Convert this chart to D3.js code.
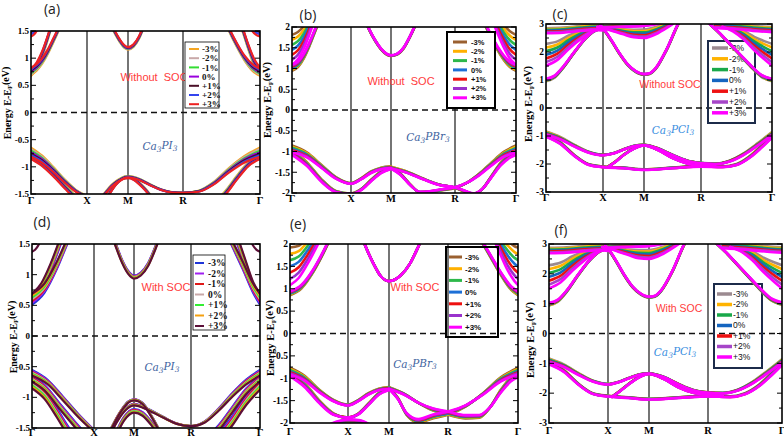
<!DOCTYPE html>
<html><head><meta charset="utf-8">
<script src="https://cdn.jsdelivr.net/npm/d3@7"></script>
<style>body{margin:0;background:#fff}</style>
</head><body>
<script>
// ---------------- DATA ----------------
const kLabels = ["Γ","X","M","R","Γ"];
const strainLabels = ["-3%","-2%","-1%","0%","+1%","+2%","+3%"];
const strainSteps = [-3,-2,-1,0,1,2,3];
const colorsA = ["#f5a623","#c8a8a8","#33dd33","#9900dd","#4a1028","#3344ee","#ee2222"];
const colorsB = ["#9a6030","#ffb000","#2db84a","#1c6fd6","#ee1010","#9932cc","#ff00ff"];
const colorsC = ["#9b8a90","#ffb300","#19a84a","#1565c0","#ee1111","#a645c8","#ff00ff"];
const colorsD = ["#1f35d8","#a020f0","#e01818","#c8a8a8","#33ee33","#f5a010","#5c0f38"];
const yTicksA = [-1.5,-1,-0.5,0,0.5,1,1.5];
const yTicksB = [-2,-1.5,-1,-0.5,0,0.5,1,1.5,2];
const yTicksC = [-3,-2,-1,0,1,2,3];
const panelLabels = ["(a)","(b)","(c)","(d)","(e)","(f)"];
const socLabels = ["Without  SOC","Without  SOC","Without SOC","With SOC","With SOC","With SOC"];
const compoundParts = [["Ca","3","PI","3"],["Ca","3","PBr","3"],["Ca","3","PCl","3"],["Ca","3","PI","3"],["Ca","3","PBr","3"],["Ca","3","PCl","3"]];
// bands: k (path coordinate Γ=0,X=1,M=2,R=3,Γ=4), e (0% energy, eV), s (shift per 1% strain, eV)
const bandsA = [
 {k:[0,0.1,0.2,0.3,0.4], e:[0.74,0.86,1.08,1.38,1.72], s:[0.022,0.02,0.016,0.012,0.01]},
 {k:[0,0.1,0.2,0.3,0.4,0.5,0.6], e:[0.76,0.83,0.95,1.12,1.33,1.55,1.8], s:[0.022,0.02,0.017,0.014,0.012,0.01,0.01]},
 {k:[0,0.05,0.1,0.15], e:[1.52,1.55,1.62,1.75], s:-0.04},
 {k:[1.5,1.65,1.8,1.9,2,2.1,2.2,2.3], e:[1.75,1.52,1.32,1.22,1.18,1.23,1.38,1.62], s:0.008},
 {k:[3.5,3.6,3.7,3.8,3.9,4], e:[1.85,1.52,1.24,1.0,0.83,0.74], s:[0.01,0.01,0.012,0.015,0.02,0.022]},
 {k:[3.7,3.78,3.85,3.92,4], e:[1.8,1.5,1.2,0.94,0.76], s:[0.01,0.012,0.015,0.02,0.022]},
 {k:[3.85,3.9,3.95,4], e:[1.75,1.62,1.55,1.52], s:-0.04},
 {k:[0,0.2,0.4,0.6,0.8,1.0], e:[-0.73,-0.86,-1.05,-1.26,-1.44,-1.55], s:[-0.028,-0.022,-0.015,-0.01,-0.006,-0.005]},
 {k:[0,0.2,0.4,0.6,0.75,0.85], e:[-0.82,-0.95,-1.14,-1.36,-1.52,-1.65], s:-0.012},
 {k:[1.3,1.45,1.6,1.75,1.9,2,2.1,2.2,2.3,2.4,2.5], e:[-1.62,-1.48,-1.35,-1.26,-1.2,-1.19,-1.22,-1.3,-1.4,-1.52,-1.65], s:-0.006},
 {k:[1.5,1.7,1.85,2,2.2,2.4,2.6,2.8,3,3.2,3.4,3.6,3.8,4], e:[-1.55,-1.32,-1.22,-1.18,-1.23,-1.33,-1.42,-1.47,-1.48,-1.45,-1.3,-1.06,-0.86,-0.73], s:[-0.005,-0.005,-0.005,-0.005,-0.004,-0.003,-0.002,-0.001,0,-0.003,-0.008,-0.014,-0.02,-0.028]},
 {k:[3.4,3.55,3.7,3.85,4], e:[-1.7,-1.48,-1.2,-0.95,-0.82], s:-0.012}
];
const bandsB = [
 {k:[0,0.1,0.2,0.3,0.4,0.5], e:[1.02,1.1,1.3,1.6,1.95,2.3], s:[0.025,0.022,0.018,0.014,0.01,0.01]},
 {k:[0,0.1,0.2,0.3,0.4], e:[1.45,1.55,1.75,2.05,2.4], s:[-0.12,-0.11,-0.09,-0.07,-0.05]},
 {k:[1.3,1.45,1.6,1.75,1.9,2,2.1,2.2,2.3,2.45], e:[2.3,1.95,1.68,1.47,1.34,1.31,1.35,1.5,1.78,2.3], s:0.003},
 {k:[3.4,3.5,3.6,3.7,3.8,3.9,4], e:[2.35,2.05,1.75,1.48,1.26,1.1,1.02], s:[0.01,0.01,0.012,0.015,0.018,0.022,0.025]},
 {k:[3.6,3.7,3.8,3.9,4], e:[2.35,2.05,1.78,1.57,1.45], s:[-0.05,-0.07,-0.09,-0.11,-0.12]},
 {k:[0,0.25,0.5,0.75,1,1.25,1.5,1.75,2], e:[-0.94,-1.08,-1.36,-1.64,-1.77,-1.66,-1.5,-1.41,-1.38], s:[-0.028,-0.02,-0.012,-0.006,-0.002,-0.004,-0.006,-0.007,-0.007]},
 {k:[0,0.25,0.5,0.75,1,1.25,1.5,1.75,2], e:[-1.02,-1.3,-1.7,-1.97,-2.02,-1.92,-1.7,-1.5,-1.4], s:[-0.02,-0.015,-0.01,-0.005,-0.003,-0.004,-0.006,-0.007,-0.007]},
 {k:[2,2.25,2.5,2.75,3,3.15,3.3,3.45,3.6,3.75,3.9,4], e:[-1.39,-1.5,-1.66,-1.8,-1.87,-1.95,-2.02,-1.9,-1.6,-1.3,-1.1,-1.02], s:[-0.007,-0.005,-0.003,-0.002,0.002,0.004,0.004,0,-0.006,-0.012,-0.017,-0.02]},
 {k:[2,2.15,2.3,2.45,2.6,2.8,3,3.2,3.4,3.6,3.8,4], e:[-1.39,-1.55,-1.8,-1.98,-1.97,-1.92,-1.87,-1.75,-1.55,-1.3,-1.07,-0.94], s:[-0.007,-0.005,-0.003,0.002,0.004,0.004,0.003,0,-0.006,-0.012,-0.02,-0.028]}
];
const bandsC = [
 {k:[0,0.15,0.3,0.5,0.7,0.85,1], e:[1.0,1.12,1.45,2.0,2.5,2.75,2.84], s:[0.015,0.012,0.008,0.005,0.003,0.001,0]},
 {k:[0,0.2,0.4,0.6,0.8,1], e:[1.9,2.05,2.35,2.6,2.78,2.85], s:[-0.13,-0.11,-0.08,-0.05,-0.02,0]},
 {k:[0,0.3,0.6,0.85,1], e:[2.76,2.78,2.84,2.88,2.86], s:-0.03},
 {k:[0.9,1,1.25,1.5,1.75,2,2.25,2.5], e:[2.9,2.86,2.8,2.72,2.66,2.65,2.8,3.05], s:[0,0,-0.02,-0.03,-0.045,-0.05,-0.04,-0.02]},
 {k:[1,1.5,2,2.4], e:[2.9,2.93,2.96,3.1], s:-0.01},
 {k:[0.95,1,1.2,1.4,1.6,1.8,1.9,2,2.1,2.2,2.4,2.6,2.75], e:[2.95,2.84,2.42,1.95,1.55,1.3,1.23,1.2,1.23,1.4,2.1,3.0,3.5], s:0.005},
 {k:[3.1,3.25,3.4,3.55,3.7,3.85,4], e:[3.05,2.7,2.3,1.9,1.5,1.15,1.0], s:[0,0.002,0.004,0.006,0.009,0.012,0.015]},
 {k:[3.3,3.45,3.6,3.75,3.9,4], e:[2.9,2.8,2.6,2.3,2.05,1.9], s:[0,-0.02,-0.05,-0.08,-0.11,-0.13]},
 {k:[3.2,3.5,3.8,4], e:[2.95,2.9,2.83,2.8], s:-0.03},
 {k:[0,0.25,0.5,0.75,1,1.25,1.5,1.75,2,2.25,2.5,2.75,3,3.2,3.4,3.6,3.8,4], e:[-0.9,-1.08,-1.35,-1.58,-1.68,-1.62,-1.48,-1.36,-1.32,-1.45,-1.68,-1.88,-1.97,-2.0,-1.9,-1.65,-1.3,-0.92], s:[-0.02,-0.015,-0.01,-0.005,-0.003,-0.002,-0.002,-0.003,-0.003,-0.003,-0.003,-0.003,-0.003,-0.003,-0.005,-0.01,-0.015,-0.02]},
 {k:[1.1,1.3,1.5,1.75,2,2.25,2.5,2.75,3,3.2], e:[-2.12,-1.92,-1.68,-1.45,-1.33,-1.5,-1.78,-1.97,-2.05,-2.08], s:-0.003},
 {k:[0,0.25,0.5,0.75,1,1.5,2,2.5,3,3.3,3.5,3.7,3.85,4], e:[-0.97,-1.25,-1.7,-2.02,-2.1,-2.14,-2.2,-2.14,-2.08,-2.1,-2.02,-1.72,-1.38,-1.0], s:[-0.02,-0.012,-0.006,-0.004,-0.004,-0.004,-0.004,-0.004,-0.004,-0.004,-0.006,-0.01,-0.015,-0.02]}
];
const bandsD = [
 {k:[0,0.2,0.4,0.55,0.7], e:[0.6,0.78,1.15,1.5,1.85], s:[0.03,0.025,0.02,0.015,0.01]},
 {k:[0,0.15,0.3,0.45,0.55], e:[0.63,0.8,1.12,1.52,1.8], s:0.02},
 {k:[0,0.05,0.1,0.15], e:[1.75,1.78,1.85,1.98], s:-0.125},
 {k:[1.4,1.55,1.7,1.85,2,2.12,2.25,2.38,2.5], e:[1.75,1.47,1.22,1.04,0.96,1.01,1.17,1.45,1.75], s:-0.008},
 {k:[3.45,3.6,3.75,3.9,4], e:[1.85,1.5,1.15,0.78,0.6], s:[0.01,0.015,0.02,0.025,0.03]},
 {k:[3.6,3.7,3.8,3.9,4], e:[1.75,1.47,1.14,0.82,0.63], s:0.02},
 {k:[3.85,3.9,3.95,4], e:[1.98,1.85,1.78,1.75], s:-0.125},
 {k:[0,0.25,0.5,0.75,1], e:[-0.6,-0.75,-1.02,-1.3,-1.55], s:[-0.015,-0.012,-0.01,-0.008,-0.006]},
 {k:[0,0.2,0.45,0.7,0.85], e:[-0.7,-0.84,-1.15,-1.45,-1.62], s:-0.015},
 {k:[0,0.2,0.4,0.55,0.65], e:[-0.78,-0.95,-1.25,-1.5,-1.65], s:-0.025},
 {k:[1.35,1.5,1.7,1.85,2,2.15,2.3,2.45], e:[-1.62,-1.42,-1.2,-1.08,-1.04,-1.1,-1.3,-1.55], s:-0.003},
 {k:[1.4,1.6,1.8,2,2.25,2.5,2.75,3,3.2,3.4,3.6,3.8,4], e:[-1.6,-1.36,-1.19,-1.12,-1.2,-1.32,-1.43,-1.47,-1.4,-1.2,-0.96,-0.75,-0.6], s:[-0.004,-0.004,-0.004,-0.004,-0.003,-0.002,-0.001,0,-0.003,-0.006,-0.01,-0.013,-0.015]},
 {k:[1.55,1.75,2,2.15,2.3,2.4], e:[-1.6,-1.35,-1.22,-1.27,-1.42,-1.55], s:-0.01},
 {k:[3.3,3.4,3.6,3.8,4], e:[-1.62,-1.5,-1.2,-0.9,-0.7], s:-0.015},
 {k:[3.45,3.6,3.8,4], e:[-1.6,-1.38,-1.05,-0.8], s:-0.025}
];
const bandsE = [
 {k:[0,0.2,0.4,0.55,0.7], e:[0.9,1.05,1.4,1.75,2.15], s:[0.015,0.013,0.01,0.008,0.006]},
 {k:[0,0.15,0.3,0.45,0.6], e:[1.5,1.6,1.85,2.15,2.5], s:[-0.14,-0.12,-0.1,-0.08,-0.06]},
 {k:[1.3,1.45,1.6,1.8,2,2.2,2.35,2.5,2.6], e:[2.25,1.9,1.6,1.28,1.17,1.3,1.55,1.95,2.25], s:0},
 {k:[3.45,3.6,3.75,3.9,4], e:[2.15,1.75,1.35,1.02,0.9], s:[0.006,0.008,0.01,0.013,0.015]},
 {k:[3.65,3.75,3.85,3.95,4], e:[2.3,2.0,1.75,1.56,1.5], s:[-0.06,-0.08,-0.11,-0.13,-0.14]},
 {k:[0,0.25,0.5,0.75,1,1.25,1.5,1.75,2], e:[-0.84,-1.0,-1.28,-1.5,-1.6,-1.5,-1.35,-1.25,-1.22], s:[-0.025,-0.018,-0.01,-0.005,-0.003,-0.004,-0.005,-0.006,-0.007]},
 {k:[0,0.25,0.5,0.75,1,1.25,1.5,1.75,2], e:[-0.9,-1.15,-1.52,-1.8,-1.88,-1.8,-1.58,-1.35,-1.24], s:[-0.02,-0.015,-0.01,-0.005,0,-0.003,-0.005,-0.006,-0.007]},
 {k:[0.7,1,1.3,1.5], e:[-2.05,-1.95,-1.97,-2.05], s:0.01},
 {k:[2,2.25,2.5,2.75,3,3.25,3.45,3.6,3.75,3.9,4], e:[-1.22,-1.35,-1.55,-1.7,-1.78,-1.86,-1.85,-1.65,-1.3,-1.02,-0.92], s:[-0.007,-0.004,0,0.008,0.012,0.012,0.01,0,-0.01,-0.016,-0.02]},
 {k:[2,2.15,2.3,2.5,2.75,3,3.25,3.5,3.75,4], e:[-1.22,-1.45,-1.8,-1.95,-1.85,-1.78,-1.62,-1.35,-1.03,-0.84], s:[-0.007,-0.004,0.006,0.012,0.014,0.012,0.005,-0.005,-0.015,-0.025]}
];
const bandsF = [
 {k:[0,0.15,0.3,0.5,0.7,0.85,1], e:[0.98,1.1,1.42,1.98,2.48,2.74,2.84], s:[0.015,0.012,0.008,0.005,0.003,0.001,0]},
 {k:[0,0.2,0.4,0.6,0.8,1], e:[1.9,2.05,2.35,2.6,2.78,2.85], s:[-0.13,-0.11,-0.08,-0.05,-0.02,0]},
 {k:[0,0.3,0.6,0.85,1], e:[2.78,2.8,2.85,2.88,2.86], s:-0.03},
 {k:[0.9,1,1.25,1.5,1.75,2,2.25,2.5], e:[2.9,2.86,2.8,2.72,2.66,2.65,2.8,3.05], s:[0,0,-0.02,-0.03,-0.045,-0.05,-0.04,-0.02]},
 {k:[1,1.5,2,2.4], e:[2.9,2.93,2.96,3.1], s:-0.01},
 {k:[0.95,1,1.2,1.4,1.6,1.8,1.9,2,2.1,2.2,2.4,2.6,2.75], e:[2.95,2.84,2.42,1.95,1.56,1.32,1.25,1.22,1.25,1.42,2.1,3.0,3.5], s:0.005},
 {k:[3.1,3.25,3.4,3.55,3.7,3.85,4], e:[3.05,2.7,2.3,1.9,1.5,1.15,1.0], s:[0,0.002,0.004,0.006,0.009,0.012,0.015]},
 {k:[3.3,3.45,3.6,3.75,3.9,4], e:[2.9,2.8,2.6,2.3,2.05,1.9], s:[0,-0.02,-0.05,-0.08,-0.11,-0.13]},
 {k:[3.2,3.5,3.8,4], e:[2.95,2.9,2.83,2.8], s:-0.03},
 {k:[0,0.25,0.5,0.75,1,1.25,1.5,1.75,2,2.25,2.5,2.75,3,3.2,3.4,3.6,3.8,4], e:[-0.9,-1.08,-1.36,-1.6,-1.7,-1.63,-1.5,-1.38,-1.34,-1.46,-1.7,-1.9,-1.98,-2.0,-1.9,-1.65,-1.3,-0.92], s:[-0.02,-0.015,-0.01,-0.005,-0.003,-0.002,-0.002,-0.003,-0.003,-0.003,-0.003,-0.003,-0.003,-0.003,-0.005,-0.01,-0.015,-0.02]},
 {k:[1.1,1.3,1.5,1.75,2,2.25,2.5,2.75,3,3.2], e:[-2.12,-1.92,-1.7,-1.47,-1.35,-1.52,-1.8,-1.98,-2.05,-2.08], s:-0.003},
 {k:[0,0.25,0.5,0.75,1,1.5,2,2.5,3,3.3,3.5,3.7,3.85,4], e:[-0.97,-1.25,-1.7,-2.02,-2.1,-2.15,-2.2,-2.15,-2.1,-2.12,-2.02,-1.72,-1.38,-1.0], s:[-0.02,-0.012,-0.006,-0.004,-0.004,-0.004,-0.004,-0.004,-0.004,-0.004,-0.006,-0.01,-0.015,-0.02]}
];

// ---------------- LAYOUT / DRAW ----------------
const SERIF = "'Liberation Serif','Times New Roman',serif";
const SANS = "'Liberation Sans',Arial,sans-serif";
const svg = d3.select("body").append("svg").attr("width",784).attr("height",440)
  .style("font-family",SANS);

const panels = [
 {id:0, bands:bandsA, colors:colorsA, ticks:yTicksA, dom:[-1.5,1.5], fr:[31,260,31,194], kx:[31,87,128,183,260], lw:2.2,
  ylab:[7,103,10], xlabY:204, tickFs:9,
  leg:{x:185,y:42,w:34,h:66,r0:49,dr:9.2,l0:189,l1:199,tx:202,fs:9,font:SERIF,bold:true,bw:0.8,bc:"#000",fill:"#fff",lw:2,over:true},
  soc:[154,81,11], comp:[160,150,"#3e63a0"], lab:[52,14]},
 {id:1, bands:bandsB, colors:colorsB, ticks:yTicksB, dom:[-2,2], fr:[292,516,27,193], kx:[292,351,391,455,516], lw:2.6,
  ylab:[267,100,10.5], xlabY:202, tickFs:9.5,
  leg:{x:447,y:32,w:48,h:76,r0:42,dr:9.3,l0:453,l1:467,tx:471,fs:7.5,font:SANS,bold:true,bw:2,bc:"#000",fill:"#fff",lw:3,over:true},
  soc:[401,85,11], comp:[428,141,"#3e63a0"], lab:[308,20]},
 {id:2, bands:bandsC, colors:colorsC, ticks:yTicksC, dom:[-3,3], fr:[546,772,24,192], kx:[546,603,644,701,772], lw:2.6,
  ylab:[528,104,10.5], xlabY:201, tickFs:9.5,
  leg:{x:708,y:41,w:47,h:82,r0:48,dr:10.8,l0:712,l1:728,tx:729,fs:8.5,font:SANS,bold:false,bw:2,bc:"#1c2b4a",fill:"none",lw:3.5,over:false},
  soc:[670,88,10.5], comp:[673,134,"#3a8ee0"], lab:[560,19]},
 {id:3, bands:bandsD, colors:colorsD, ticks:yTicksA, dom:[-1.5,1.5], fr:[32,260,244,428], kx:[32,94,134,191,260], lw:2.2,
  ylab:[13,337,10], xlabY:436, tickFs:9,
  leg:{x:193,y:255,w:32,h:75,r0:263,dr:10.5,l0:195,l1:204,tx:208,fs:9.5,font:SERIF,bold:true,bw:0.8,bc:"#000",fill:"#fff",lw:2,over:true},
  soc:[166,291,11], comp:[162,371,"#3e63a0"], lab:[42,227]},
 {id:4, bands:bandsE, colors:colorsB, ticks:yTicksB, dom:[-2,2], fr:[290,518,244,423], kx:[290,348,389,448,518], lw:2.6,
  ylab:[270,338,10.5], xlabY:435, tickFs:9.5,
  leg:{x:446,y:247,w:52,h:90,r0:257,dr:11.7,l0:449,l1:462,tx:465,fs:8,font:SANS,bold:true,bw:2,bc:"#000",fill:"none",lw:3,over:true},
  soc:[415,291,11], comp:[415,368,"#3e63a0"], lab:[298,229]},
 {id:5, bands:bandsF, colors:colorsC, ticks:yTicksC, dom:[-3,3], fr:[549,782,244,423], kx:[549,608,649,708,782], lw:2.6,
  ylab:[530,340,10.5], xlabY:434, tickFs:9.5,
  leg:{x:714,y:284,w:48,h:84,r0:294,dr:10.5,l0:717,l1:732,tx:733,fs:8.5,font:SANS,bold:false,bw:2,bc:"#1c2b4a",fill:"none",lw:3.5,over:false},
  soc:[679,312,10.5], comp:[675,356,"#3a8ee0"], lab:[561,235]}
];

function sAt(b,j){ return Array.isArray(b.s) ? b.s[j] : b.s; }

function drawLegend(g,p){
  const L = p.leg;
  const lg = g.append("g");
  lg.append("rect").attr("x",L.x).attr("y",L.y).attr("width",L.w).attr("height",L.h)
    .attr("fill",L.fill).attr("stroke",L.bc).attr("stroke-width",L.bw);
  strainLabels.forEach((lab,i)=>{
    const yy = L.r0 + i*L.dr;
    lg.append("line").attr("x1",L.l0).attr("x2",L.l1).attr("y1",yy).attr("y2",yy)
      .attr("stroke",p.colors[i]).attr("stroke-width",L.lw);
    lg.append("text").attr("x",L.tx).attr("y",yy+L.fs*0.35).text(lab)
      .attr("font-family",L.font).attr("font-size",L.fs).attr("font-weight",L.bold?"bold":"normal")
      .attr("fill","#111");
  });
}

panels.forEach(p=>{
  const [x0,x1,y0,y1] = p.fr;
  const g = svg.append("g");
  const x = d3.scaleLinear().domain([0,1,2,3,4]).range(p.kx);
  const y = d3.scaleLinear().domain(p.dom).range([y1,y0]);
  const clipId = "clip"+p.id;
  svg.append("clipPath").attr("id",clipId).append("rect")
    .attr("x",x0).attr("y",y0).attr("width",x1-x0).attr("height",y1-y0);

  // high-symmetry vertical lines
  [1,2,3].forEach(k=>{
    g.append("line").attr("x1",x(k)).attr("x2",x(k)).attr("y1",y0).attr("y2",y1)
      .attr("stroke","#3a3a3a").attr("stroke-width",1.4);
  });
  // Fermi level
  g.append("line").attr("x1",x0).attr("x2",x1).attr("y1",y(0)).attr("y2",y(0))
    .attr("stroke","#111").attr("stroke-width",1.5).attr("stroke-dasharray","6,4");

  if(!p.leg.over) drawLegend(g,p);

  // bands
  const line = d3.line().x(d=>x(d[0])).y(d=>y(d[1])).curve(d3.curveMonotoneX);
  const bg = g.append("g").attr("clip-path",`url(#${clipId})`);
  strainSteps.forEach((st,i)=>{
    p.bands.forEach(b=>{
      const pts = b.k.map((k,j)=>[k, b.e[j] + sAt(b,j)*st]);
      bg.append("path").attr("d",line(pts)).attr("fill","none")
        .attr("stroke",p.colors[i]).attr("stroke-width",p.lw)
        .attr("stroke-linejoin","round").attr("stroke-linecap","round");
    });
  });

  // frame
  g.append("rect").attr("x",x0).attr("y",y0).attr("width",x1-x0).attr("height",y1-y0)
    .attr("fill","none").attr("stroke","#000").attr("stroke-width",1.6);

  // y ticks (inward, both sides) + minor
  const t = p.ticks;
  const minors = t.slice(0,-1).map((v,i)=>(v+t[i+1])/2);
  t.forEach(v=>{
    g.append("line").attr("x1",x0).attr("x2",x0+5).attr("y1",y(v)).attr("y2",y(v)).attr("stroke","#000").attr("stroke-width",1);
    g.append("line").attr("x1",x1).attr("x2",x1-5).attr("y1",y(v)).attr("y2",y(v)).attr("stroke","#000").attr("stroke-width",1);
    g.append("text").attr("x",x0-2).attr("y",y(v)+p.tickFs*0.35).attr("text-anchor","end")
      .attr("font-family",SERIF).attr("font-weight","bold").attr("font-size",p.tickFs).text(String(v));
  });
  minors.forEach(v=>{
    g.append("line").attr("x1",x0).attr("x2",x0+3).attr("y1",y(v)).attr("y2",y(v)).attr("stroke","#000").attr("stroke-width",1);
    g.append("line").attr("x1",x1).attr("x2",x1-3).attr("y1",y(v)).attr("y2",y(v)).attr("stroke","#000").attr("stroke-width",1);
  });
  // k labels
  kLabels.forEach((lab,i)=>{
    g.append("text").attr("x",x(i)).attr("y",p.xlabY).attr("text-anchor","middle")
      .attr("font-family",SERIF).attr("font-weight","bold").attr("font-size",10.5).text(lab);
  });
  // y label
  const yl = g.append("text").attr("transform",`translate(${p.ylab[0]},${p.ylab[1]}) rotate(-90)`)
    .attr("text-anchor","middle").attr("dy","0.35em")
    .attr("font-family",SERIF).attr("font-weight","bold").attr("font-size",p.ylab[2]);
  yl.append("tspan").text("Energy E-E");
  yl.append("tspan").attr("font-size",p.ylab[2]*0.65).attr("dy","0.3em").text("F");
  yl.append("tspan").attr("dy","-0.3em").text("(eV)");

  // SOC text
  g.append("text").attr("x",p.soc[0]).attr("y",p.soc[1]).attr("text-anchor","middle")
    .attr("font-family",SANS).attr("font-size",p.soc[2]).attr("fill","#ff3b3b")
    .style("white-space","pre").text(socLabels[p.id]);
  // compound
  const parts = compoundParts[p.id];
  const ct = g.append("text").attr("x",p.comp[0]).attr("y",p.comp[1]).attr("text-anchor","middle")
    .attr("font-family","'DejaVu Serif',serif").attr("font-style","italic").attr("font-size",10.5)
    .attr("fill",p.comp[2]);
  ct.append("tspan").text(parts[0]);
  ct.append("tspan").attr("font-size",7.5).attr("dy","0.3em").text(parts[1]);
  ct.append("tspan").attr("dy","-0.3em").text(parts[2]);
  ct.append("tspan").attr("font-size",7.5).attr("dy","0.3em").text(parts[3]);

  if(p.leg.over) drawLegend(g,p);

  // panel label
  g.append("text").attr("x",p.lab[0]).attr("y",p.lab[1]).attr("text-anchor","middle")
    .attr("font-family","'Open Sans',Arial,sans-serif").attr("font-size",14).attr("fill","#222")
    .text(panelLabels[p.id]);
});
</script>
</body></html>
